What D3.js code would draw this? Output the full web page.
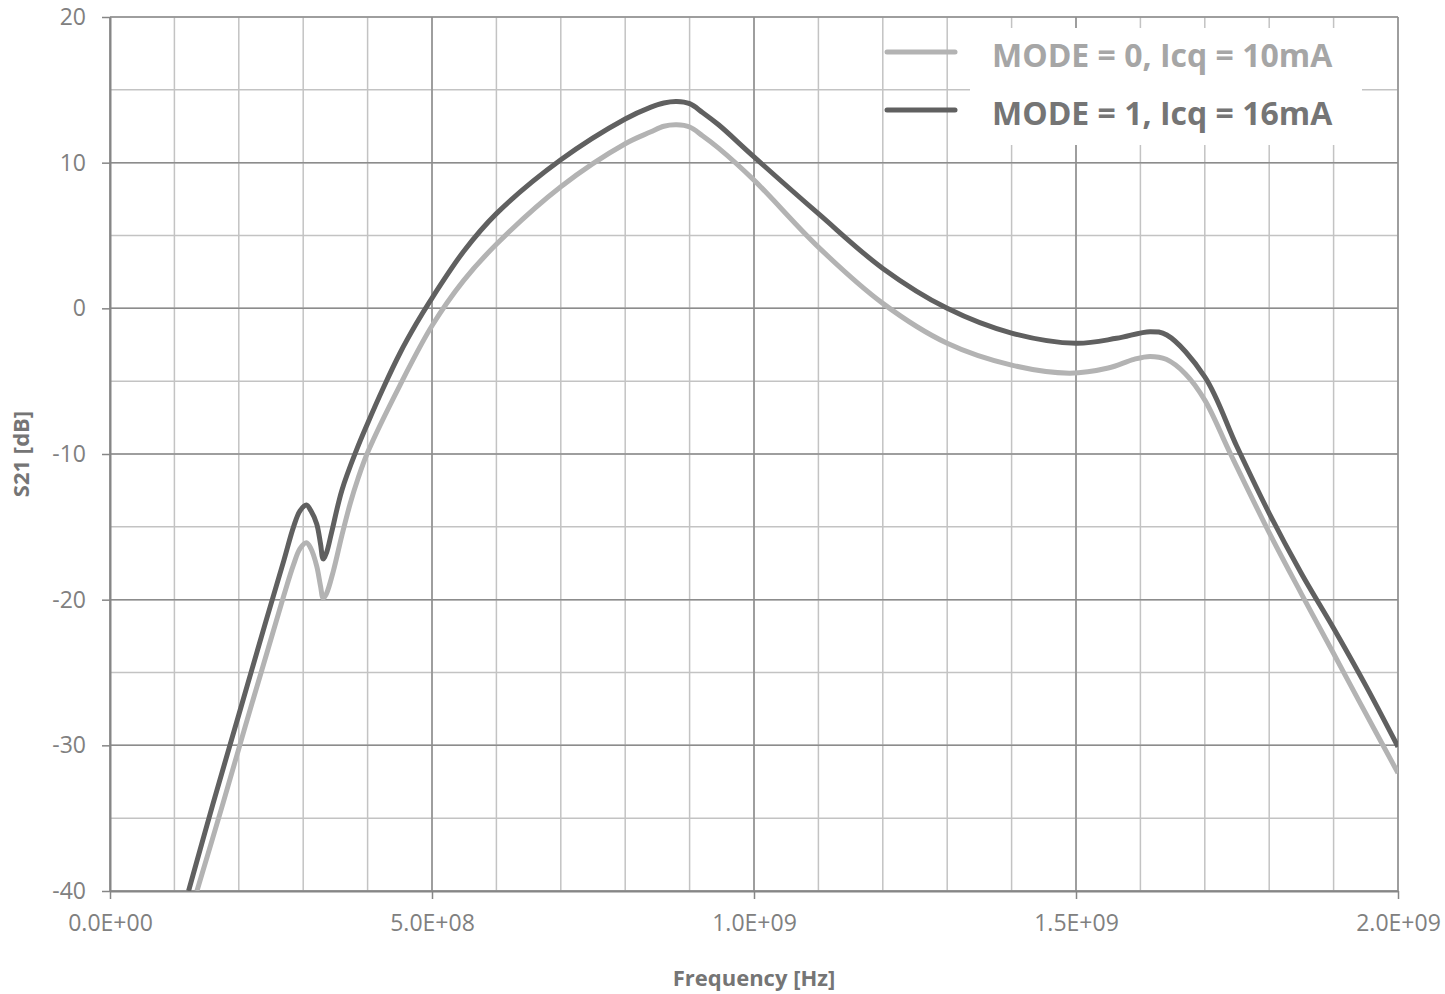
<!DOCTYPE html>
<html>
<head>
<meta charset="utf-8">
<script src="https://cdn.jsdelivr.net/npm/d3@7"></script>
<style>
  body { margin: 0; background: #fff; }
  svg { display: block; font-family: "Open Sans", sans-serif; }
</style>
</head>
<body>
<svg class="chart" width="1445" height="994"></svg>
<script>
// S21 vs frequency (frequency in Hz, S21 in dB)
const freqMode0 = [1.35e8, 1.76e8, 2.1e8, 2.46e8, 2.7e8, 2.85e8, 2.95e8, 3.05e8, 3.12e8, 3.21e8, 3.27e8, 3.31e8, 3.36e8, 3.47e8, 3.6e8, 3.73e8, 3.85e8, 4.0e8, 4.5e8, 5.0e8, 5.49e8, 6.0e8, 7.0e8, 8.0e8, 8.39e8, 8.6e8, 8.8e8, 9.0e8, 9.2e8, 9.45e8, 1.0e9, 1.1e9, 1.2e9, 1.3e9, 1.4e9, 1.49e9, 1.55e9, 1.59e9, 1.615e9, 1.64e9, 1.67e9, 1.7e9, 1.74e9, 1.8e9, 1.85e9, 1.9e9, 1.94e9, 2.0e9]
const s21Mode0 = [-40, -33.9, -28.7, -23.3, -19.7, -17.6, -16.5, -16.1, -16.5, -17.7, -19.1, -19.9, -19.6, -18.0, -15.6, -13.4, -11.7, -9.9, -5.3, -1.2, 1.9, 4.4, 8.35, 11.3, 12.1, 12.5, 12.6, 12.45, 11.85, 11.0, 8.8, 4.2, 0.34, -2.4, -3.9, -4.45, -4.1, -3.5, -3.3, -3.5, -4.5, -6.3, -10.0, -15.4, -19.6, -23.7, -27.0, -31.9]

const freqMode1 = [1.22e8, 1.6e8, 2.0e8, 2.4e8, 2.7e8, 2.85e8, 2.95e8, 3.05e8, 3.12e8, 3.21e8, 3.27e8, 3.31e8, 3.36e8, 3.44e8, 3.6e8, 3.83e8, 4.0e8, 4.24e8, 4.5e8, 4.75e8, 4.97e8, 5.49e8, 6.0e8, 7.0e8, 8.0e8, 8.39e8, 8.6e8, 8.8e8, 9.0e8, 9.2e8, 9.45e8, 1.0e9, 1.1e9, 1.2e9, 1.3e9, 1.4e9, 1.5e9, 1.563e9, 1.615e9, 1.641e9, 1.7e9, 1.75e9, 1.8e9, 1.85e9, 1.9e9, 1.95e9, 2.0e9]
const s21Mode1 = [-40, -34.0, -27.9, -21.8, -17.3, -15.0, -13.9, -13.5, -13.9, -14.8, -16.2, -17.2, -16.8, -15.4, -12.5, -9.7, -7.9, -5.5, -3.1, -1.1, 0.5, 3.9, 6.5, 10.2, 13.0, 13.8, 14.1, 14.2, 14.05, 13.45, 12.6, 10.4, 6.5, 2.74, 0, -1.7, -2.4, -2.06, -1.6, -1.83, -4.7, -9.5, -14.07, -18.2, -21.96, -25.9, -30.1]

const seriesNames = ["MODE = 0, Icq = 10mA", "MODE = 1, Icq = 16mA"]
const seriesColors = ["#b3b3b3", "#606060"]
const legendTextColors = ["#a6a6a6", "#757575"]

const xMajorTicks = [0, 5e8, 1e9, 1.5e9, 2e9]
const xMinorTicks = d3.range(0, 21).map(i => i * 1e8)
const yMajorTicks = [-40, -30, -20, -10, 0, 10, 20]
const yMinorTicks = d3.range(-40, 21, 5)

const xTitle = "Frequency [Hz]"
const yTitle = "S21 [dB]"

// plot area
var left = 110
    right = 1398
    top_ = 17
    bottom = 891

const svg = d3.select(".chart")

const x = d3.scaleLinear().domain([0, 2e9]).range([left, right])
const y = d3.scaleLinear().domain([-40, 20]).range([bottom, top_])

function sci(v){
  if (v == 0) return "0.0E+00"
  var e = Math.floor(Math.log10(v))
  var m = v / Math.pow(10, e)
  return m.toFixed(1) + "E+" + String(e).padStart(2, "0")
}

// minor grid
svg.append("g")
  .selectAll("line")
  .data(xMinorTicks)
  .enter().append("line")
  .attr("x1", d => x(d)).attr("x2", d => x(d))
  .attr("y1", top_).attr("y2", bottom)
  .attr("stroke", "#c3c3c3").attr("stroke-width", 1.5)

svg.append("g")
  .selectAll("line")
  .data(yMinorTicks)
  .enter().append("line")
  .attr("x1", left).attr("x2", right)
  .attr("y1", d => y(d)).attr("y2", d => y(d))
  .attr("stroke", "#c3c3c3").attr("stroke-width", 1.5)

// major grid
svg.append("g")
  .selectAll("line")
  .data(xMajorTicks)
  .enter().append("line")
  .attr("x1", d => x(d)).attr("x2", d => x(d))
  .attr("y1", top_).attr("y2", bottom)
  .attr("stroke", "#8c8c8c").attr("stroke-width", 1.5)

svg.append("g")
  .selectAll("line")
  .data(yMajorTicks)
  .enter().append("line")
  .attr("x1", left).attr("x2", right)
  .attr("y1", d => y(d)).attr("y2", d => y(d))
  .attr("stroke", "#8c8c8c").attr("stroke-width", 1.5)

// axes
svg.append("g")
  .attr("transform", "translate(0," + bottom + ")")
  .call(d3.axisBottom(x).tickValues(xMajorTicks).tickSize(8).tickSizeOuter(0).tickPadding(16).tickFormat(sci))

svg.append("g")
  .attr("transform", "translate(" + left + ",0)")
  .call(d3.axisLeft(y).tickValues(yMajorTicks).tickSize(8).tickSizeOuter(0).tickPadding(16).tickFormat(d => String(d)))

svg.selectAll(".domain").attr("stroke", "#868686").attr("stroke-width", 2)
svg.selectAll(".tick line").attr("stroke", "#868686").attr("stroke-width", 1.5)
svg.selectAll(".tick text")
  .attr("fill", "#808080")
  .style("font-family", "'Open Sans', sans-serif")
  .style("font-size", "23px")

// curves
const line = d3.line()
  .x(d => x(d[0]))
  .y(d => y(d[1]))
  .curve(d3.curveCatmullRom.alpha(0.5))

svg.append("clipPath").attr("id", "plot")
  .append("rect")
  .attr("x", left).attr("y", top_)
  .attr("width", right - left).attr("height", bottom - top_)

const series = [d3.zip(freqMode0, s21Mode0), d3.zip(freqMode1, s21Mode1)]

svg.append("g")
  .attr("clip-path", "url(#plot)")
  .selectAll("path")
  .data(series)
  .enter().append("path")
  .attr("d", line)
  .attr("fill", "none")
  .attr("stroke", (d, i) => seriesColors[i])
  .attr("stroke-width", 5)
  .attr("stroke-linejoin", "round")

// legend
svg.append("rect")
  .attr("x", 970).attr("y", 28)
  .attr("width", 392).attr("height", 117)
  .attr("fill", "#fff")

const legend = svg.append("g")
  .selectAll("g")
  .data(seriesNames)
  .enter().append("g")
  .attr("transform", (d, i) => "translate(0," + (52 + i * 58) + ")")

legend.append("line")
  .attr("x1", 887).attr("x2", 955)
  .attr("stroke", (d, i) => seriesColors[i])
  .attr("stroke-width", 5)
  .attr("stroke-linecap", "round")

legend.append("text")
  .attr("x", 992)
  .attr("y", 4)
  .attr("dy", "0.35em")
  .attr("fill", (d, i) => legendTextColors[i])
  .style("font-size", "32px")
  .style("font-weight", "bold")
  .text(d => d)

// axis titles
svg.append("text")
  .attr("x", (left + right) / 2)
  .attr("y", 986)
  .attr("text-anchor", "middle")
  .attr("fill", "#757575")
  .style("font-size", "22px")
  .style("font-weight", "bold")
  .text(xTitle)

svg.append("text")
  .attr("transform", "translate(29," + (top_ + bottom) / 2 + ") rotate(-90)")
  .attr("text-anchor", "middle")
  .attr("fill", "#757575")
  .style("font-size", "22px")
  .style("font-weight", "bold")
  .text(yTitle)
</script>
</body>
</html>
